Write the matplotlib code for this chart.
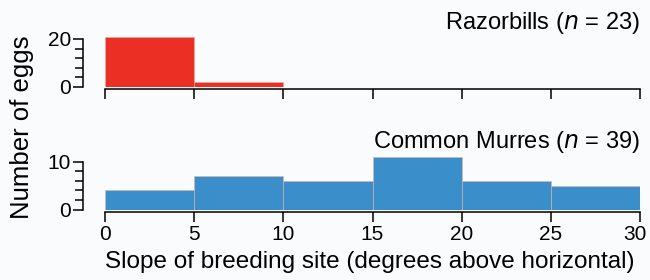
import matplotlib
matplotlib.use("Agg")
import matplotlib.pyplot as plt
from matplotlib.ticker import MultipleLocator
from matplotlib.transforms import ScaledTranslation

plt.rcParams['font.family'] = ['Liberation Sans', 'DejaVu Sans']

bin_edges = [0, 5, 10, 15, 20, 25, 30]
razorbills = [21, 2, 0, 0, 0, 0]
murres = [4, 7, 6, 11, 6, 5]
x_ticks = [0, 5, 10, 15, 20, 25, 30]

red = '#EB2F25'
blue = '#3A8EC9'
bg = '#FAFBFC'

W, H = 650, 280
fig = plt.figure(figsize=(W / 100, H / 100), dpi=100, facecolor=bg)

def px_axes(x0, x1, ytop, ybot):
    return fig.add_axes([x0 / W, 1 - ybot / H, (x1 - x0) / W, (ybot - ytop) / H])

ax1 = px_axes(105, 640, 36.5, 87)
ax2 = px_axes(105, 640, 157, 209.5)

widths = [bin_edges[i + 1] - bin_edges[i] for i in range(len(bin_edges) - 1)]

def style(ax, counts, color, ymax, ystep, ytop):
    ax.set_facecolor('none')
    ax.bar(bin_edges[:-1], counts, width=widths, align='edge', color=color,
           edgecolor='#E8B0A0', linewidth=0.4)
    ax.set_xlim(0, 30)
    ax.set_ylim(0, ytop)
    for s in ['top', 'right']:
        ax.spines[s].set_visible(False)
    ax.spines['left'].set_position(('outward', 16))
    ax.spines['bottom'].set_position(('outward', 1.5))
    ax.spines['left'].set_bounds(0, ymax)
    ax.spines['bottom'].set_bounds(0, 30)
    for s in ['left', 'bottom']:
        ax.spines[s].set_linewidth(1.1)
    ax.set_yticks([0, ymax])
    ax.yaxis.set_minor_locator(MultipleLocator(ystep))
    ax.tick_params(axis='y', which='major', length=7.5, width=1.1, pad=1, labelsize=15)
    ax.tick_params(axis='y', which='minor', length=5.5, width=1.1)
    ax.set_xticks(x_ticks)
    ax.tick_params(axis='x', which='major', length=7, width=1.1, pad=3, labelsize=15)

style(ax1, razorbills, red, 20, 4, 21)
ax1.tick_params(axis='x', labelbottom=False)
style(ax2, murres, blue, 10, 2, 11)

last = ax2.xaxis.get_major_ticks()[-1].label1
last.set_transform(last.get_transform() + ScaledTranslation(-5 / 100, 0, fig.dpi_scale_trans))

fig.text(640 / W, 1 - 29 / H, 'Razorbills ($\\it{n}$ = 23)', ha='right', va='baseline', fontsize=17)
fig.text(640 / W, 1 - 148 / H, 'Common Murres ($\\it{n}$ = 39)', ha='right', va='baseline', fontsize=17)
fig.text(370 / W, 1 - 268 / H, 'Slope of breeding site (degrees above horizontal)',
         ha='center', va='baseline', fontsize=17.5)
fig.text(22 / W, 1 - 127 / H, 'Number of eggs', rotation=90, ha='center', va='center', fontsize=18.5)

fig.savefig('out.png', dpi=100, facecolor=bg)
